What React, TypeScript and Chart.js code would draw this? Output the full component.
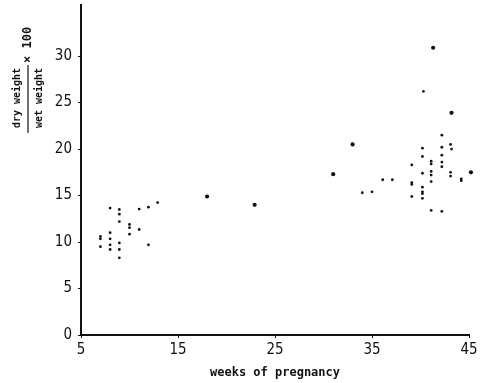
import React, { useEffect, useRef } from "react";
import { Chart, registerables } from "chart.js";

Chart.register(...registerables);

// Small dots: weeks of pregnancy and dry/wet weight x 100
const smallWeeks = [
  7.0, 7.0, 7.0, 8.0, 8.0, 8.0, 8.0, 8.0, 8.95, 8.95, 8.95, 8.95, 8.95, 8.95,
  10.0, 10.0, 10.0, 11.0, 11.0, 11.95, 11.95, 12.9,
  40.3, 42.2, 43.1, 43.2, 40.2, 42.2, 40.2, 42.2, 41.1, 41.1, 42.2, 42.2, 39.1,
  40.2, 41.1, 41.1, 43.1, 43.1, 44.2, 44.2, 36.1, 37.1, 41.1, 39.1, 39.1, 34.0,
  35.0, 40.2, 40.2, 40.2, 39.1, 40.2, 41.1, 42.2,
];
const smallValues = [
  10.6, 10.35, 9.5, 13.65, 11.0, 10.35, 9.7, 9.2, 13.5, 13.0, 12.2, 9.9, 9.2, 8.3,
  11.9, 11.55, 10.85, 13.55, 11.35, 13.75, 9.7, 14.25,
  26.2, 21.5, 20.5, 20.0, 20.1, 20.2, 19.2, 19.35, 18.7, 18.4, 18.6, 18.1, 18.3,
  17.4, 17.6, 17.2, 17.5, 17.1, 16.8, 16.6, 16.7, 16.7, 16.5, 16.4, 16.2, 15.3,
  15.4, 15.9, 15.4, 15.2, 14.9, 14.7, 13.4, 13.3,
];
// Larger dots
const largeWeeks = [18.0, 22.9, 31.0, 33.0, 41.3, 43.2, 45.2];
const largeValues = [14.9, 14.0, 17.3, 20.5, 30.9, 23.9, 17.5];

const xTicks = [5, 15, 25, 35, 45];
const yTicks = [0, 5, 10, 15, 20, 25, 30];

const xTitle = "weeks of pregnancy";
const yNumerator = "dry weight";
const yDenominator = "wet weight";
const yFactor = "× 100";

const tickFont = "'Liberation Sans Narrow', 'DejaVu Sans Condensed', sans-serif";
const monoFont = "'DejaVu Sans Mono', 'Liberation Mono', monospace";

const yTitlePlugin = {
  id: "yFractionTitle",
  afterDraw(chart: any) {
    const ctx = chart.ctx;
    ctx.save();
    ctx.fillStyle = "#111";
    ctx.strokeStyle = "#111";
    ctx.font = `bold 10px ${monoFont}`;
    const drawRot = (text: string, x: number, y: number, align: CanvasTextAlign) => {
      ctx.save();
      ctx.translate(x, y);
      ctx.rotate(-Math.PI / 2);
      ctx.textAlign = align;
      ctx.textBaseline = "middle";
      ctx.fillText(text, 0, 0);
      ctx.restore();
    };
    drawRot(yNumerator, 17, 98, "center");
    drawRot(yDenominator, 39, 98, "center");
    ctx.lineWidth = 1.2;
    ctx.beginPath();
    ctx.moveTo(28, 133);
    ctx.lineTo(28, 65);
    ctx.stroke();
    ctx.font = `bold 12px ${monoFont}`;
    drawRot(yFactor, 28, 63, "left");
    ctx.restore();
  },
};

export default function App() {
  const ref = useRef<HTMLCanvasElement>(null);
  useEffect(() => {
    document.body.style.margin = "0";
    const small = smallWeeks.map((w, i) => ({ x: w, y: smallValues[i] }));
    const large = largeWeeks.map((w, i) => ({ x: w, y: largeValues[i] }));
    const chart = new Chart(ref.current as HTMLCanvasElement, {
      type: "scatter",
      data: {
        datasets: [
          {
            data: small,
            pointRadius: 1.4,
            pointBackgroundColor: "#111",
            pointBorderWidth: 0,
            clip: false,
          },
          {
            data: large,
            pointRadius: 2.1,
            pointBackgroundColor: "#111",
            pointBorderWidth: 0,
            clip: false,
          },
        ],
      },
      options: {
        animation: false,
        responsive: false,
        layout: { padding: { top: 5, right: 15, left: 0, bottom: 0 } },
        plugins: { legend: { display: false }, tooltip: { enabled: false } },
        scales: {
          x: {
            type: "linear",
            min: 5,
            max: 45,
            afterBuildTicks: (s: any) => {
              s.ticks = xTicks.map((v) => ({ value: v }));
            },
            afterFit: (s: any) => {
              s.height = 48;
              s.paddingLeft = 0;
              s.paddingRight = 0;
            },
            grid: { drawOnChartArea: false, drawTicks: true, tickLength: 3, color: "#111" },
            border: { color: "#111", width: 2 },
            ticks: {
              color: "#111",
              padding: 3,
              font: { family: tickFont, size: 15 },
              maxRotation: 0,
            },
            title: {
              display: true,
              text: xTitle,
              color: "#111",
              font: { family: monoFont, size: 12, weight: "bold" },
              padding: { top: 0, bottom: 3 },
            },
          },
          y: {
            type: "linear",
            min: 0,
            max: 35.5,
            afterBuildTicks: (s: any) => {
              s.ticks = yTicks.map((v) => ({ value: v }));
            },
            afterFit: (s: any) => {
              s.width = 81;
              s.paddingTop = 0;
              s.paddingBottom = 0;
            },
            grid: { drawOnChartArea: false, drawTicks: true, tickLength: 3, color: "#111" },
            border: { color: "#111", width: 2 },
            ticks: {
              color: "#111",
              padding: 6,
              font: { family: tickFont, size: 15 },
            },
          },
        },
      },
      plugins: [yTitlePlugin],
    } as any);
    return () => chart.destroy();
  }, []);
  return <canvas ref={ref} width={484} height={383} style={{ display: "block" }} />;
}
